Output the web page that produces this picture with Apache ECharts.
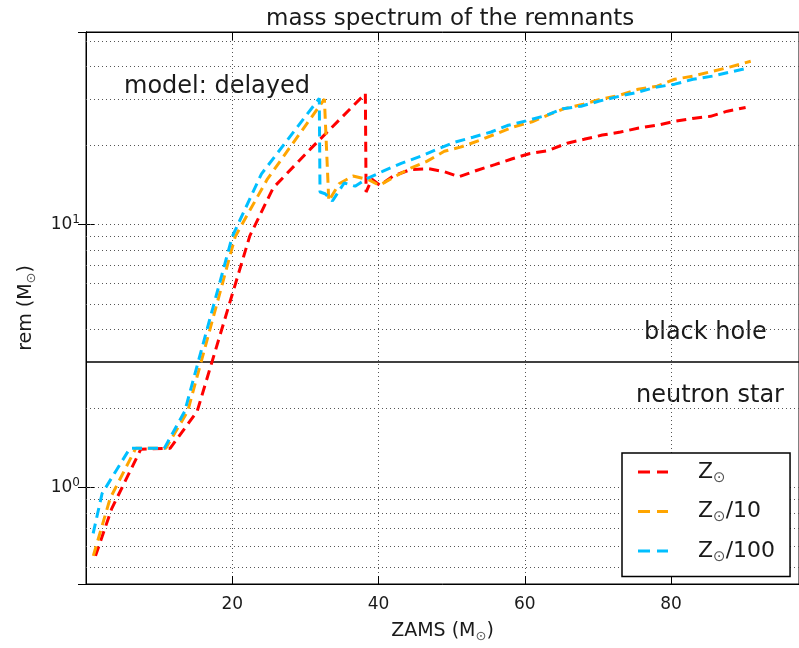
<!DOCTYPE html>
<html>
<head>
<meta charset="utf-8">
<script src="https://cdn.jsdelivr.net/npm/echarts@6/dist/echarts.min.js"></script>
<style>
  html, body { margin: 0; padding: 0; background: #fff; }
  #chart { width: 799px; height: 648px; }
</style>
</head>
<body>
<div id="chart"></div>
<script>
// Z_sun
const zamsSun = [1.3, 3.5, 7.5, 11.5, 15.2, 22.4, 25.6, 30.7, 38.2, 38.3, 39.1, 40.2, 42.0, 44.4, 46.9, 49.0, 51.0, 53.5, 55.9, 58.3, 60.6, 63.1, 65.8, 68.1, 70.6, 73.1, 75.6, 78.2, 80.5, 83.2, 85.4, 87.7, 90.2];
const remSun = [0.55, 0.83, 1.4, 1.41, 1.95, 9.06, 13.8, 19.4, 31.5, 13.3, 14.9, 14.1, 15.3, 16.2, 16.3, 15.9, 15.2, 16.1, 16.9, 17.8, 18.6, 19.1, 20.4, 21.1, 21.9, 22.5, 23.3, 23.9, 24.7, 25.4, 25.8, 27.0, 27.9];
// Z_sun/10
const zams10 = [1.0, 3.3, 6.8, 10.9, 13.9, 20.4, 24.8, 32.6, 33.2, 34.6, 36.5, 38.7, 40.1, 42.0, 44.4, 46.6, 49.0, 51.2, 53.8, 56.0, 58.4, 61.0, 63.3, 65.4, 68.0, 70.4, 72.9, 75.5, 78.1, 80.5, 83.0, 85.7, 88.0, 90.9];
const rem10 = [0.55, 0.91, 1.41, 1.41, 1.95, 9.0, 14.9, 30.0, 12.3, 14.3, 15.3, 14.8, 14.1, 15.1, 16.4, 17.4, 19.0, 19.7, 20.9, 22.1, 23.5, 24.6, 26.2, 27.6, 28.7, 30.0, 31.0, 32.7, 33.6, 35.7, 36.7, 38.3, 39.7, 41.8];
// Z_sun/100
const zams100 = [0.98, 2.2, 6.0, 10.7, 13.5, 20.0, 24.0, 31.9, 32.0, 32.7, 33.7, 35.3, 36.8, 38.3, 40.7, 43.1, 45.8, 48.1, 50.5, 52.9, 55.4, 57.6, 60.2, 62.9, 65.2, 67.7, 70.2, 73.0, 75.5, 77.9, 80.5, 83.0, 85.7, 88.0, 90.4];
const rem100 = [0.67, 0.95, 1.41, 1.41, 1.95, 9.0, 15.6, 30.2, 13.3, 13.1, 12.3, 14.4, 14.0, 14.9, 16.0, 17.1, 18.2, 19.4, 20.6, 21.5, 22.5, 23.8, 24.8, 26.0, 27.6, 28.2, 29.5, 30.8, 31.9, 33.3, 34.2, 35.7, 36.7, 38.0, 39.3];

const seriesNames = ['Z⊙', 'Z⊙/10', 'Z⊙/100'];
const seriesColors = ['#ff0000', '#ffa500', '#00bfff'];
const gridY = [0.5, 0.6, 0.7, 0.8, 0.9, 1, 2, 4, 5, 6, 7, 8, 9, 10, 20, 30, 40, 50];
const boundaryNS = 3;

const font = 'DejaVu Sans';
const ink = '#1a1a1a';

const zip = (xs, ys) => xs.map((x, i) => [x, ys[i]]);
const pairs = [zip(zamsSun, remSun), zip(zams10, rem10), zip(zams100, rem100)];

const chart = echarts.init(document.getElementById('chart'));

const dotted = { color: '#555', width: 1, type: [1, 3] };
// two short dashes, like the legend handle of a '--' line
const dashIcon = 'path://M0,0h12v3h-12z M19,0h11v3h-11z';

const option = {
  animation: false,
  title: {
    text: 'mass spectrum of the remnants',
    left: 261,
    top: 3,
    textStyle: { fontFamily: font, fontSize: 23, fontWeight: 'normal', color: ink },
  },
  grid: {
    left: 86,
    right: -3,
    top: 32,
    bottom: 62,
    show: true,
    borderColor: '#000',
    borderWidth: 1,
  },
  xAxis: [
    {
      type: 'value',
      min: 0,
      max: 97.5,
      interval: 20,
      name: 'ZAMS (M{s|⊙})',
      nameLocation: 'middle',
      nameGap: 35,
      nameTextStyle: {
        fontFamily: font, fontSize: 19, color: ink,
        rich: { s: { fontFamily: font, fontSize: 13, color: '#555', padding: [11, 0, 0, 0] } },
      },
      axisLine: { lineStyle: { color: '#000', width: 1 } },
      axisTick: { inside: true, length: 8, lineStyle: { color: '#000' } },
      axisLabel: { fontFamily: font, fontSize: 17, color: ink, margin: 12, showMinLabel: false, showMaxLabel: false },
      splitLine: { show: true, lineStyle: dotted },
    },
    {
      type: 'value',
      position: 'top',
      min: 0,
      max: 97.5,
      interval: 20,
      axisLine: { lineStyle: { color: '#000', width: 1 } },
      axisTick: { inside: true, length: 8, lineStyle: { color: '#000' } },
      axisLabel: { show: false },
      splitLine: { show: false },
    },
  ],
  yAxis: [
    {
      type: 'log',
      logBase: 10,
      min: 0.43,
      max: 54,
      name: 'rem (M{s|⊙})',
      nameLocation: 'middle',
      nameGap: 48,
      nameTextStyle: {
        fontFamily: font, fontSize: 19, color: ink,
        rich: { s: { fontFamily: font, fontSize: 13, color: '#555', padding: [11, 0, 0, 0] } },
      },
      axisLine: { show: true, lineStyle: { color: '#000', width: 1 } },
      axisTick: { inside: true, length: 8, lineStyle: { color: '#000' } },
      axisLabel: {
        fontFamily: font, fontSize: 17, color: ink, margin: 6,
        formatter: (v) => {
          const e = Math.round(Math.log10(v));
          if (Math.abs(Math.log10(v) - e) > 1e-6) return '';
          return '10{s|' + e + '}';
        },
        rich: { s: { fontFamily: font, fontSize: 12, color: ink, padding: [0, 0, 10, 0] } },
      },
      splitLine: { show: false },
    },
    {
      type: 'log',
      logBase: 10,
      min: 0.43,
      max: 54,
      position: 'right',
      axisLine: { show: true, lineStyle: { color: '#000', width: 1 } },
      axisTick: { inside: true, length: 8, lineStyle: { color: '#000' } },
      axisLabel: { show: false },
      splitLine: { show: false },
    },
  ],
  legend: {
    orient: 'vertical',
    left: 622,
    top: 453,
    padding: [7, 15, 12, 16],
    icon: dashIcon,
    itemWidth: 30,
    itemHeight: 3,
    itemGap: 14,
    backgroundColor: '#fff',
    borderColor: '#000',
    borderWidth: 1.5,
    borderRadius: 0,
    data: seriesNames,
    formatter: (name) => name.replace('⊙', '{s|⊙}'),
    textStyle: {
      fontFamily: font, fontSize: 22, color: ink, padding: [0, 0, 0, 25], lineHeight: 24,
      rich: { s: { fontFamily: font, fontSize: 15, color: '#555', padding: [12, 0, 0, 0] } },
    },
  },
  graphic: [
    { type: 'text', left: 124, top: 75, style: { text: 'model: delayed', fontFamily: font, fontSize: 24, fill: ink } },
    { type: 'text', left: 644, top: 321, style: { text: 'black hole', fontFamily: font, fontSize: 24, fill: ink } },
    { type: 'text', left: 636, top: 384, style: { text: 'neutron star', fontFamily: font, fontSize: 24, fill: ink } },
  ],
  series: seriesNames.map((name, i) => ({
    name,
    type: 'line',
    data: pairs[i],
    symbol: 'none',
    z: 3 + i,
    lineStyle: { color: seriesColors[i], width: 3, type: [10, 6] },
    itemStyle: { color: seriesColors[i] },
    markLine: i === 0 ? {
      silent: true,
      symbol: 'none',
      label: { show: false },
      z: 1,
      data: gridY.map((v) => ({ yAxis: v, lineStyle: dotted }))
        .concat([{ yAxis: boundaryNS, lineStyle: { color: '#000', width: 1.5, type: 'solid' } }]),
    } : undefined,
  })),
};

chart.setOption(option);
</script>
</body>
</html>
